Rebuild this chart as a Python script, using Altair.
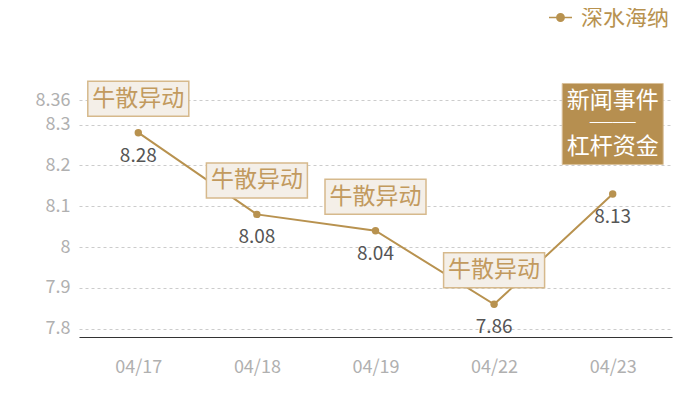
import altair as alt
import pandas as pd

dates = ["04/17", "04/18", "04/19", "04/22", "04/23"]
prices = [8.28, 8.08, 8.04, 7.86, 8.13]
series_name = "深水海纳"
events = ["牛散异动", "牛散异动", "牛散异动", "牛散异动", ""]
news_date = "04/23"
news_lines = ["新闻事件", "──", "杠杆资金"]
y_ticks = [7.8, 7.9, 8.0, 8.1, 8.2, 8.3, 8.36]
y_domain = [7.78, 8.36]

BROWN = "#b8924f"
FONT = "Noto Sans CJK SC"

df = pd.DataFrame({"date": dates, "price": prices, "series": series_name, "event": events})
ev = df[df["event"] != ""].copy()
news = df[df["date"] == news_date].copy()
news["news"] = [news_lines] * len(news)

x = alt.X("date:N", sort=dates, title=None,
          scale=alt.Scale(paddingInner=0, paddingOuter=0),
          axis=alt.Axis(labelAngle=0, labelColor="#b0b0b0", labelFontSize=18, labelFont=FONT,
                        ticks=False, domainColor="#333333", domainWidth=1.2, labelPadding=21,
                        grid=False))
y = alt.Y("price:Q", title=None,
          scale=alt.Scale(domain=y_domain, zero=False, nice=False),
          axis=alt.Axis(values=y_ticks, labelExpr="'' + datum.value", labelColor="#b0b0b0",
                        labelFontSize=18, labelFont=FONT, ticks=False, domain=False,
                        labelPadding=9, grid=True, gridColor="#cccccc", gridDash=[3, 3],
                        gridWidth=1))

base = alt.Chart(df).encode(x=x, y=y)

line = base.mark_line(strokeWidth=2, color=BROWN)

leg_path = ("M-1,0L-0.32,0M0.32,0L1,0"
            "M0.32,0A0.32,0.32 0 1 1 -0.32,0A0.32,0.32 0 1 1 0.32,0Z")
points = base.mark_point(filled=True, size=55, opacity=1).encode(
    color=alt.Color("series:N", scale=alt.Scale(domain=[series_name], range=[BROWN]),
                    legend=alt.Legend(title=None, orient="none", legendX=469, legendY=-95,
                                      symbolType=leg_path, symbolSize=529,
                                      symbolStrokeColor=BROWN, symbolFillColor=BROWN,
                                      symbolStrokeWidth=1.5,
                                      labelFontSize=22, labelColor=BROWN, labelFont=FONT,
                                      labelOffset=8))
)

box_path = "M-1,-0.3465L1,-0.3465L1,0.3465L-1,0.3465Z"
boxes = alt.Chart(ev).mark_point(shape=box_path, size=10201, filled=True, fill="#f4efe8",
                                 stroke="#d6b98c", strokeWidth=1.5, opacity=1,
                                 fillOpacity=1, yOffset=-34).encode(x=x, y=y)
box_text = alt.Chart(ev).mark_text(fontSize=23, font=FONT, color="#c29a5e", yOffset=-34,
                                   baseline="middle").encode(x=x, y=y, text="event:N")

news_path = "M-1,-0.802L1,-0.802L1,0.802L-1,0.802Z"
news_box = alt.Chart(news).mark_point(shape=news_path, size=10201, filled=True, fill="#b68f50",
                                      stroke="#d9c09a", strokeWidth=1, opacity=1,
                                      yOffset=-70).encode(x=x, y=y)
news_text = alt.Chart(news).mark_text(fontSize=23, font=FONT, color="#ffffff", lineHeight=23,
                                      baseline="middle", yOffset=-93).encode(
    x=x, y=y, text="news")

values = base.mark_text(fontSize=19, font=FONT, color="#555555", dy=23,
                        baseline="middle").encode(text=alt.Text("price:Q", format=".2f"))

chart = alt.layer(line, boxes, points, values, box_text, news_box, news_text).properties(
    width=593, height=237,
    background="#ffffff",
    autosize=alt.AutoSizeParams(type="none"),
    padding={"left": 71, "top": 92, "right": 20, "bottom": 40},
).configure_view(stroke=None)

chart.save("out.html", embed_options={"renderer": "svg", "actions": False})
